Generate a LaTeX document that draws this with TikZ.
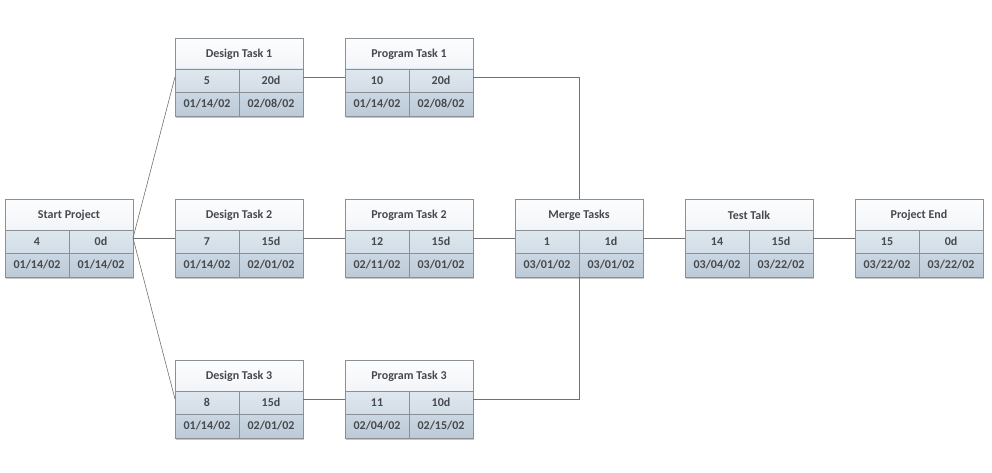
\documentclass[tikz,border=0pt]{standalone}
\usepackage{fontspec}
\setmainfont{Carlito}
\usetikzlibrary{positioning,shadows}
\definecolor{boxline}{HTML}{8A9096}
\definecolor{titletop}{HTML}{FCFDFE}
\definecolor{titlebot}{HTML}{E3E9EF}
\definecolor{midtop}{HTML}{DFE7EE}
\definecolor{midbot}{HTML}{D2DDE7}
\definecolor{lowtop}{HTML}{CBD7E2}
\definecolor{lowbot}{HTML}{BCCAD8}
\definecolor{textgray}{HTML}{46494D}
\definecolor{linkgray}{HTML}{707070}
\tikzset{
    pertbox/.style={rectangle, draw=boxline, line width=0.7pt, minimum width=128pt, minimum height=78pt,
      inner sep=0pt, outer sep=0pt,
      drop shadow={shadow xshift=1.4pt, shadow yshift=-1.8pt, opacity=0.45},
      path picture={
        \shade[top color=titletop, bottom color=titlebot] (path picture bounding box.north west) rectangle ([yshift=-31pt]path picture bounding box.north east);
        \shade[top color=midtop, bottom color=midbot] ([yshift=-31pt]path picture bounding box.north west) rectangle ([yshift=-54pt]path picture bounding box.north east);
        \shade[top color=lowtop, bottom color=lowbot] ([yshift=-54pt]path picture bounding box.north west) rectangle (path picture bounding box.south east);
        \draw[boxline, line width=0.7pt] ([yshift=-31pt]path picture bounding box.north west) -- ([yshift=-31pt]path picture bounding box.north east);
        \draw[boxline, line width=0.7pt] ([yshift=-54pt]path picture bounding box.north west) -- ([yshift=-54pt]path picture bounding box.north east);
        \draw[boxline, line width=0.7pt] ([yshift=-31pt]path picture bounding box.north) -- (path picture bounding box.south);
      }},
    celltext/.style={text=textgray, font=\fontsize{12}{14}\selectfont\bfseries, inner sep=0pt},
    link/.style={draw=linkgray, line width=0.6pt}
}
% one PERT box: name, title, id, duration, start, finish
\newcommand{\pertfill}[6]{
    \node[celltext] at ([yshift=-16pt]#1.north) {#2};
    \node[celltext] at ([xshift=-32pt,yshift=-42.5pt]#1.north) {#3};
    \node[celltext] at ([xshift=32pt,yshift=-42.5pt]#1.north) {#4};
    \node[celltext] at ([xshift=-32pt,yshift=-66pt]#1.north) {#5};
    \node[celltext] at ([xshift=32pt,yshift=-66pt]#1.north) {#6};
}

\begin{document}
\begin{tikzpicture}[x=1pt, y=1pt, node distance=83pt and 42pt]
    \useasboundingbox (0,0) rectangle (992,-473);
    \node[pertbox] (start) at (69,-238) {};
    \node[pertbox, right=of start] (design2) {};
    \node[pertbox, above=of design2] (design1) {};
    \node[pertbox, below=of design2] (design3) {};
    \node[pertbox, right=of design1] (program1) {};
    \node[pertbox, right=of design2] (program2) {};
    \node[pertbox, right=of design3] (program3) {};
    \node[pertbox, right=of program2] (merge) {};
    \node[pertbox, right=of merge] (test) {};
    \node[pertbox, right=of test] (finish) {};

    \pertfill{start}{Start Project}{4}{0d}{01/14/02}{01/14/02}
    \pertfill{design1}{Design Task 1}{5}{20d}{01/14/02}{02/08/02}
    \pertfill{design2}{Design Task 2}{7}{15d}{01/14/02}{02/01/02}
    \pertfill{design3}{Design Task 3}{8}{15d}{01/14/02}{02/01/02}
    \pertfill{program1}{Program Task 1}{10}{20d}{01/14/02}{02/08/02}
    \pertfill{program2}{Program Task 2}{12}{15d}{02/11/02}{03/01/02}
    \pertfill{program3}{Program Task 3}{11}{10d}{02/04/02}{02/15/02}
    \pertfill{merge}{Merge Tasks}{1}{1d}{03/01/02}{03/01/02}
    \pertfill{test}{Test Talk}{14}{15d}{03/04/02}{03/22/02}
    \pertfill{finish}{Project End}{15}{0d}{03/22/02}{03/22/02}

    \draw[link] (start.east) -- (design1.west);
    \draw[link] (start.east) -- (design2.west);
    \draw[link] (start.east) -- (design3.west);
    \draw[link] (design1.east) -- (program1.west);
    \draw[link] (design2.east) -- (program2.west);
    \draw[link] (design3.east) -- (program3.west);
    \draw[link] (program1.east) -| (merge.north);
    \draw[link] (program2.east) -- (merge.west);
    \draw[link] (program3.east) -| (merge.south);
    \draw[link] (merge.east) -- (test.west);
    \draw[link] (test.east) -- (finish.west);
\end{tikzpicture}
\end{document}
